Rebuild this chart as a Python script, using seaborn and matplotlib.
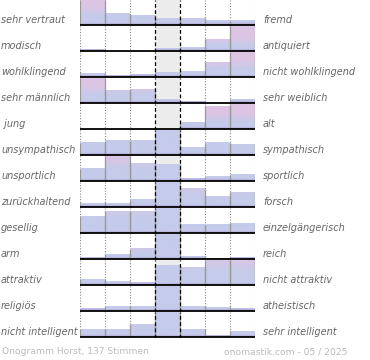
#!/usr/bin/env python3

import numpy as np
import pandas as pd
from matplotlib import pyplot as plt
from matplotlib.colors import to_rgb
import seaborn as sns

left_labels = ['sehr vertraut', 'modisch', 'wohlklingend', 'sehr männlich', ' jung',
               'unsympathisch', 'unsportlich', 'zurückhaltend', 'gesellig', 'arm',
               'attraktiv', 'religiös', 'nicht intelligent']
right_labels = ['fremd', 'antiquiert', 'nicht wohlklingend', 'sehr weiblich', 'alt',
                'sympathisch', 'sportlich', 'forsch', 'einzelgängerisch', 'reich',
                'nicht attraktiv', 'atheistisch', 'sehr intelligent']

# bar heights per row, relative to the largest bar of that row (7 steps)
sehr_vertraut = [1.00, 0.45, 0.39, 0.27, 0.27, 0.17, 0.17]
modisch = [0.07, 0.00, 0.00, 0.12, 0.15, 0.47, 1.00]
wohlklingend = [0.15, 0.07, 0.09, 0.20, 0.23, 0.60, 1.00]
maennlich = [1.00, 0.52, 0.56, 0.13, 0.05, 0.00, 0.13]
jung = [0.00, 0.00, 0.00, 0.00, 0.26, 0.92, 1.00]
unsympathisch = [0.49, 0.57, 0.57, 1.00, 0.29, 0.49, 0.44]
unsportlich = [0.49, 1.00, 0.71, 0.68, 0.09, 0.17, 0.25]
zurueckhaltend = [0.15, 0.15, 0.30, 1.00, 0.73, 0.44, 0.60]
gesellig = [0.67, 0.87, 0.87, 1.00, 0.33, 0.33, 0.40]
arm = [0.08, 0.19, 0.41, 1.00, 0.12, 0.03, 0.08]
attraktiv = [0.24, 0.16, 0.10, 0.80, 0.72, 1.00, 1.00]
religioes = [0.09, 0.20, 0.20, 1.00, 0.20, 0.15, 0.09]
intelligent = [0.32, 0.32, 0.52, 1.00, 0.32, 0.07, 0.23]

rows = [sehr_vertraut, modisch, wohlklingend, maennlich, jung, unsympathisch,
        unsportlich, zurueckhaltend, gesellig, arm, attraktiv, religioes, intelligent]
steps = list(range(7))

footer_left = 'Onogramm Horst, 137 Stimmen'
footer_right = 'onomastik.com - 05 / 2025'

sns.set_style('white')
plt.rcParams['font.family'] = ['DejaVu Sans']

W, H = 370, 360
fig = plt.figure(figsize=(W / 100, H / 100), dpi=100)

blue = np.array(to_rgb('#c5cbea'))
pink = np.array(to_rgb('#ddc4e4'))
purple = np.array(to_rgb('#a594cc'))

row_px = 26
x0, x1 = 80, 255
for i, vals in enumerate(rows):
    top = H - i * row_px
    ax = fig.add_axes([x0 / W, (top - row_px) / H, (x1 - x0) / W, row_px / H])
    df = pd.DataFrame({'step': steps, 'value': vals})
    sns.barplot(data=df, x='step', y='value', ax=ax, width=1.0, color='#c5cbea',
                edgecolor='none', zorder=1)
    bars = list(ax.patches)
    ax.axvspan(2.5, 3.5, color='#ececec', zorder=0, lw=0)
    for xv in [-0.5, 0.5, 1.5, 4.5, 5.5, 6.5]:
        ax.axvline(xv, color='#888888', lw=0.8, ls=(0, (1, 1.5)), zorder=0.5)
    share = max(vals) / sum(vals)
    for k, p in enumerate(bars):
        h = p.get_height()
        if h <= 0:
            continue
        xl = p.get_x()
        n = 64
        y = (np.arange(n) + 0.5) / n * h
        v = y * share
        t = np.clip((v - 0.14) / 0.14, 0, 1) if k != 3 else np.zeros(n)
        col = blue[None, :] * (1 - t[:, None]) + pink[None, :] * t[:, None]
        b = np.clip(1 - y / 0.1, 0, 1) * 0.85
        col = col * (1 - b[:, None]) + purple[None, :] * b[:, None]
        ax.imshow(col[:, None, :], extent=(xl, xl + 1, 0, h), origin='lower',
                  aspect='auto', interpolation='bilinear', zorder=2)
        ax.vlines([xl, xl + 1], 0, h, color='#999999', lw=0.9, zorder=3)
    ax.axhline(-0.035, color='#cccccc', lw=0.8, zorder=3)
    ax.axhline(0, color='black', lw=1.3, zorder=4)
    for xv in [2.5, 3.5]:
        ax.axvline(xv, color='black', lw=0.9, ls=(0, (3, 2)), zorder=5)
    ax.set_xlim(-0.5, 6.5)
    ax.set_ylim(-1 / 25, 1.0)
    ax.set_axis_off()

    ty = (H - (i * row_px + 20)) / H
    fig.text(1 / W, ty, left_labels[i], ha='left', va='center', fontsize=7,
             style='italic', color='#666666')
    fig.text(263 / W, ty, right_labels[i], ha='left', va='center', fontsize=7,
             style='italic', color='#666666')

fig.text(2 / W, (H - 352) / H, footer_left, ha='left', va='center', fontsize=6.6,
         color='#bbbbbb')
fig.text(347 / W, (H - 352) / H, footer_right, ha='right', va='center', fontsize=6.6,
         color='#bbbbbb')

plt.savefig('out.png', dpi=100)
